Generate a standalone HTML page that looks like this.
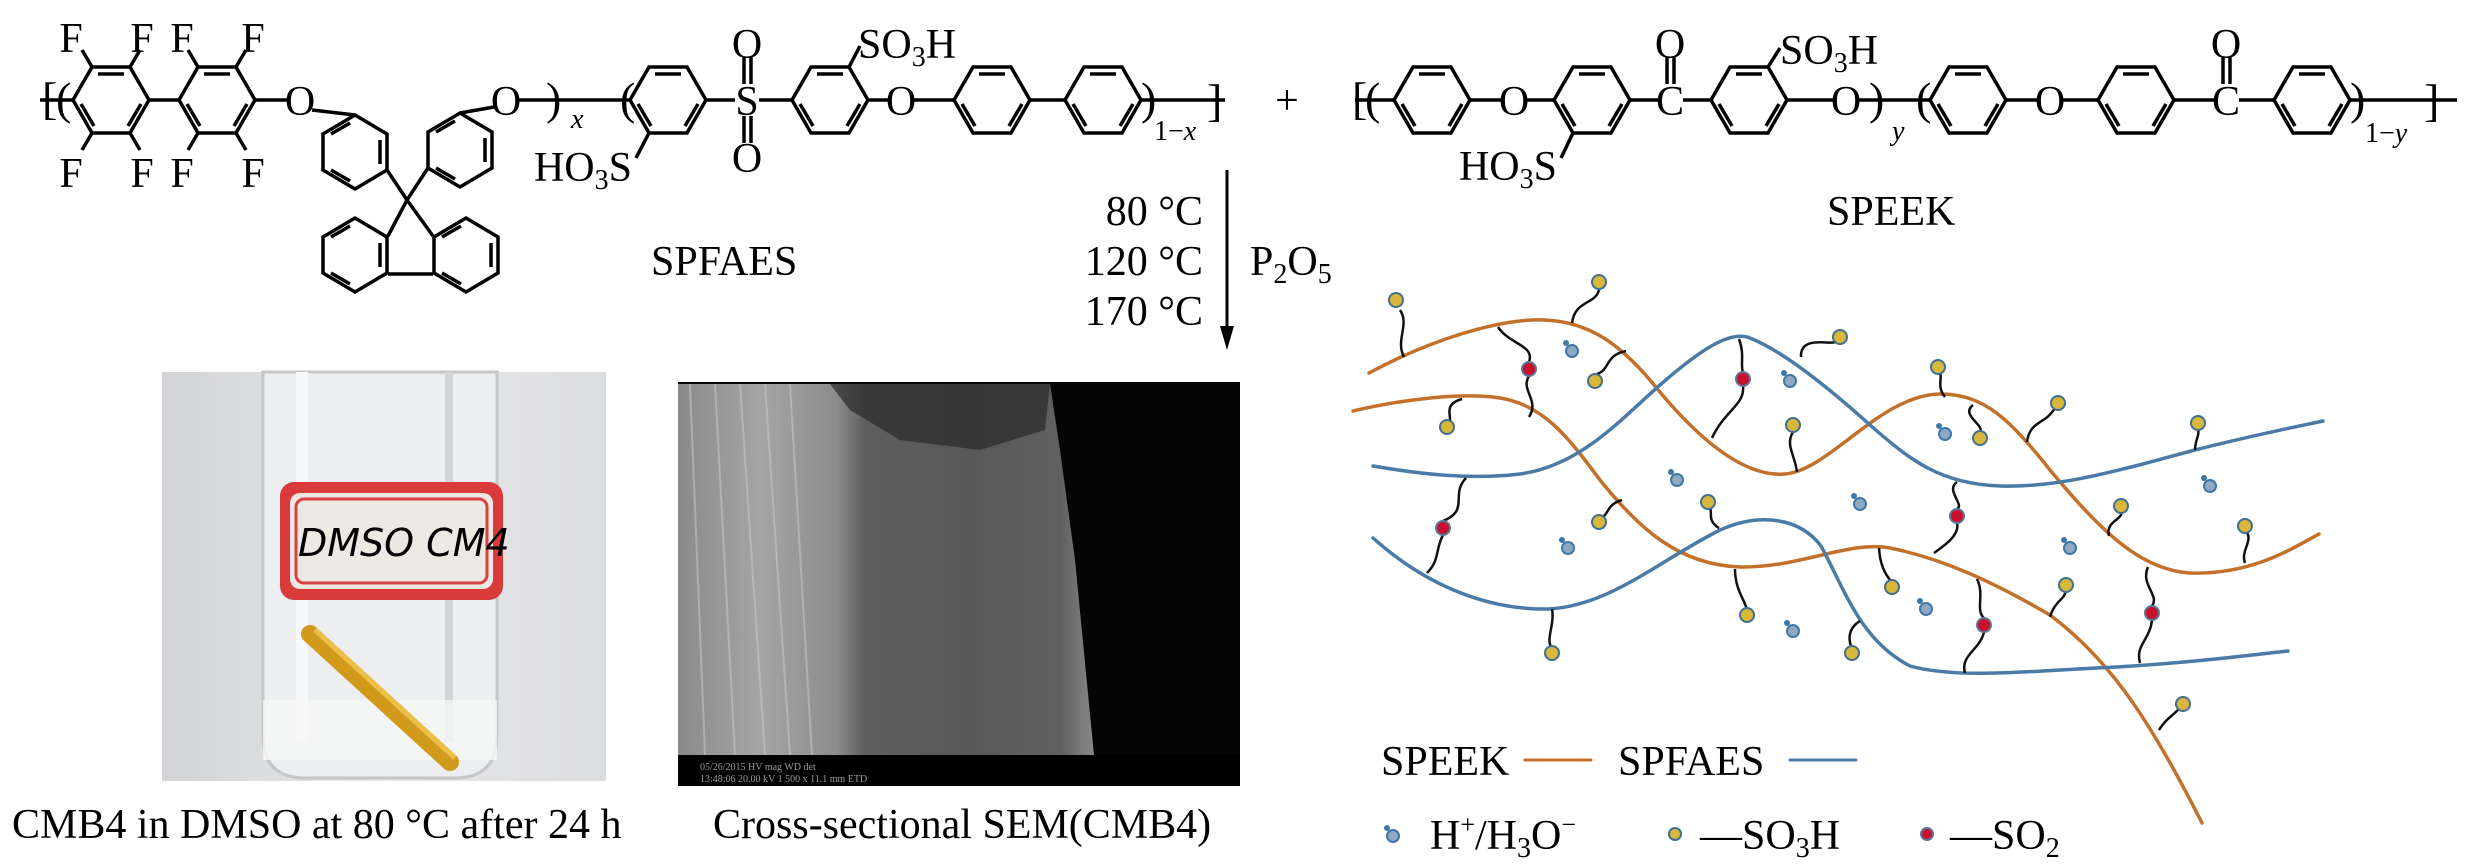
<!DOCTYPE html>
<html><head><meta charset="utf-8"><style>
html,body{margin:0;padding:0;background:#fff;}
svg{display:block;}
text{font-family:"Liberation Serif",serif;fill:#000;}
</style></head><body>
<svg width="2467" height="866" viewBox="0 0 2467 866" xmlns="http://www.w3.org/2000/svg">
<defs>
<g id="hl" fill="none" stroke="#000" stroke-width="3.5">
<polygon points="-38,0 -19,-33 19,-33 38,0 19,33 -19,33"/>
<line x1="-13" y1="-26" x2="13" y2="-26"/>
<line x1="-30" y1="4" x2="-17" y2="26"/>
<line x1="30" y1="4" x2="17" y2="26"/>
</g>
<g id="ht" fill="none" stroke="#000" stroke-width="3.5">
<polygon points="0,-37 32,-18 32,18 0,37 -32,18 -32,-18"/>
<line x1="25" y1="-12" x2="25" y2="12"/>
<line x1="-5" y1="29" x2="-24" y2="18"/>
<line x1="-5" y1="-29" x2="-24" y2="-18"/>
</g>
<linearGradient id="bg1" x1="0" x2="1" y1="0" y2="0"><stop offset="0" stop-color="#d3d4d6"/><stop offset="0.5" stop-color="#e6e7e9"/><stop offset="1" stop-color="#dcdddf"/></linearGradient>
<linearGradient id="sem" x1="0" x2="1" y1="0" y2="0"><stop offset="0" stop-color="#8a8a8a"/><stop offset="0.2" stop-color="#a5a5a5"/><stop offset="0.38" stop-color="#8c8c8c"/><stop offset="0.45" stop-color="#5e5e5e"/><stop offset="0.7" stop-color="#585858"/><stop offset="0.92" stop-color="#606060"/><stop offset="1" stop-color="#888"/></linearGradient>
</defs>

<!-- SPFAES chain -->
<g stroke="#000" stroke-width="3.5" fill="none">
<line x1="40" y1="100" x2="73" y2="100"/>
<line x1="149" y1="100" x2="179" y2="100"/>
<line x1="255" y1="100" x2="287" y2="100"/>
<line x1="92" y1="67" x2="82" y2="50"/><line x1="130" y1="67" x2="140" y2="50"/>
<line x1="92" y1="133" x2="82" y2="150"/><line x1="130" y1="133" x2="140" y2="150"/>
<line x1="198" y1="67" x2="188" y2="50"/><line x1="236" y1="67" x2="246" y2="50"/>
<line x1="198" y1="133" x2="188" y2="150"/><line x1="236" y1="133" x2="246" y2="150"/>
<line x1="312" y1="110" x2="355" y2="115"/>
<line x1="387" y1="170" x2="407" y2="200"/>
<line x1="428" y1="168" x2="407" y2="200"/>
<line x1="460" y1="113" x2="494" y2="107"/>
<line x1="407" y1="200" x2="388" y2="236"/>
<line x1="407" y1="200" x2="433" y2="236"/>
<line x1="388" y1="274" x2="433" y2="274"/>
<line x1="518" y1="100" x2="630" y2="100"/>
<line x1="706" y1="100" x2="735" y2="100"/>
<line x1="759" y1="100" x2="792" y2="100"/>
<line x1="744" y1="57" x2="744" y2="84"/><line x1="751" y1="57" x2="751" y2="84"/>
<line x1="744" y1="116" x2="744" y2="143"/><line x1="751" y1="116" x2="751" y2="143"/>
<line x1="868" y1="100" x2="889" y2="100"/>
<line x1="913" y1="100" x2="954" y2="100"/>
<line x1="1030" y1="100" x2="1065" y2="100"/>
<line x1="1141" y1="100" x2="1225" y2="100"/>
<line x1="849" y1="67" x2="860" y2="46"/>
<line x1="649" y1="133" x2="636" y2="158"/>
</g>
<use href="#hl" x="111" y="100"/><use href="#hl" x="217" y="100"/>
<use href="#ht" x="355" y="152"/><use href="#ht" x="460" y="150"/>
<use href="#ht" x="355" y="255"/><use href="#ht" x="466" y="255"/>
<use href="#hl" x="668" y="100"/><use href="#hl" x="830" y="100"/>
<use href="#hl" x="992" y="100"/><use href="#hl" x="1103" y="100"/>
<g font-size="42">
<text x="71" y="52" text-anchor="middle">F</text><text x="142" y="52" text-anchor="middle">F</text>
<text x="182" y="52" text-anchor="middle">F</text><text x="253" y="52" text-anchor="middle">F</text>
<text x="71" y="187" text-anchor="middle">F</text><text x="142" y="187" text-anchor="middle">F</text>
<text x="182" y="187" text-anchor="middle">F</text><text x="253" y="187" text-anchor="middle">F</text>
<text x="300" y="115" text-anchor="middle">O</text>
<text x="506" y="115" text-anchor="middle">O</text>
<text x="747" y="115" text-anchor="middle">S</text>
<text x="747" y="58" text-anchor="middle">O</text>
<text x="747" y="172" text-anchor="middle">O</text>
<text x="901" y="115" text-anchor="middle">O</text>
<text x="858" y="58">SO<tspan font-size="28" dy="8">3</tspan><tspan dy="-8">H</tspan></text>
<text x="632" y="181" text-anchor="end">HO<tspan font-size="28" dy="8">3</tspan><tspan dy="-8">S</tspan></text>
<text x="42" y="114" font-size="46">[</text><text x="56" y="114" font-size="46">(</text>
<text x="546" y="114" font-size="46">)</text>
<text x="571" y="128" font-size="28" font-style="italic">x</text>
<text x="620" y="114" font-size="46">(</text>
<text x="1141" y="114" font-size="46">)</text>
<text x="1154" y="140" font-size="28">1−<tspan font-style="italic">x</tspan></text>
<text x="1207" y="116" font-size="46">]</text>
<text x="651" y="275">SPFAES</text>
</g>

<!-- arrow and conditions -->
<line x1="1227" y1="170" x2="1227" y2="335" stroke="#000" stroke-width="3"/>
<polygon points="1220,326 1234,326 1227,350" fill="#000"/>
<g font-size="42">
<text x="1203" y="225" text-anchor="end">80 °C</text>
<text x="1203" y="275" text-anchor="end">120 °C</text>
<text x="1203" y="325" text-anchor="end">170 °C</text>
<text x="1250" y="275">P<tspan font-size="28" dy="8">2</tspan><tspan dy="-8">O</tspan><tspan font-size="28" dy="8">5</tspan></text>
</g>

<!-- SPEEK chain -->
<g stroke="#000" stroke-width="3.5" fill="none">
<line x1="1355" y1="100" x2="1395" y2="100"/>
<line x1="1469" y1="100" x2="1502" y2="100"/>
<line x1="1526" y1="100" x2="1555" y2="100"/>
<line x1="1629" y1="100" x2="1658" y2="100"/>
<line x1="1683" y1="100" x2="1712" y2="100"/>
<line x1="1667" y1="57" x2="1667" y2="84"/><line x1="1674" y1="57" x2="1674" y2="84"/>
<line x1="1786" y1="100" x2="1834" y2="100"/>
<line x1="1858" y1="100" x2="1931" y2="100"/>
<line x1="2005" y1="100" x2="2038" y2="100"/>
<line x1="2062" y1="100" x2="2099" y2="100"/>
<line x1="2173" y1="100" x2="2214" y2="100"/>
<line x1="2239" y1="100" x2="2275" y2="100"/>
<line x1="2223" y1="57" x2="2223" y2="84"/><line x1="2230" y1="57" x2="2230" y2="84"/>
<line x1="2349" y1="100" x2="2457" y2="100"/>
<line x1="1768" y1="67" x2="1780" y2="48"/>
<line x1="1573" y1="133" x2="1561" y2="158"/>
</g>
<use href="#hl" x="1432" y="100"/><use href="#hl" x="1592" y="100"/>
<use href="#hl" x="1749" y="100"/><use href="#hl" x="1968" y="100"/>
<use href="#hl" x="2136" y="100"/><use href="#hl" x="2312" y="100"/>
<g font-size="42">
<text x="1287" y="114" text-anchor="middle">+</text>
<text x="1352" y="114" font-size="46">[</text><text x="1365" y="114" font-size="46">(</text>
<text x="1514" y="115" text-anchor="middle">O</text>
<text x="1670" y="115" text-anchor="middle">C</text>
<text x="1670" y="58" text-anchor="middle">O</text>
<text x="1780" y="64">SO<tspan font-size="28" dy="8">3</tspan><tspan dy="-8">H</tspan></text>
<text x="1557" y="180" text-anchor="end">HO<tspan font-size="28" dy="8">3</tspan><tspan dy="-8">S</tspan></text>
<text x="1846" y="115" text-anchor="middle">O</text>
<text x="1869" y="114" font-size="46">)</text>
<text x="1892" y="140" font-size="28" font-style="italic">y</text>
<text x="1916" y="114" font-size="46">(</text>
<text x="2050" y="115" text-anchor="middle">O</text>
<text x="2226" y="115" text-anchor="middle">C</text>
<text x="2226" y="58" text-anchor="middle">O</text>
<text x="2350" y="114" font-size="46">)</text>
<text x="2365" y="142" font-size="28">1−<tspan font-style="italic">y</tspan></text>
<text x="2424" y="116" font-size="46">]</text>
<text x="1827" y="225">SPEEK</text>
</g>

<!-- photo 1 -->
<rect x="162" y="372" width="444" height="409" fill="url(#bg1)"/>
<path d="M263,372 L263,735 Q263,778 305,778 L455,778 Q497,778 497,735 L497,372 Z" fill="#eceeef" stroke="#c4c6c8" stroke-width="3"/>
<rect x="296" y="372" width="12" height="370" fill="#f7f8f9"/>
<rect x="445" y="372" width="8" height="370" fill="#d2d4d6"/>
<rect x="263" y="700" width="234" height="60" fill="#f6f6f6" opacity="0.8"/>
<rect x="280" y="482" width="223" height="118" rx="14" fill="#d93a3a"/>
<rect x="290" y="493" width="203" height="96" rx="10" fill="#ece8e2"/>
<rect x="296" y="499" width="191" height="84" rx="8" fill="none" stroke="#d94040" stroke-width="3"/>
<text x="298" y="556" font-size="38" style="font-family:'DejaVu Sans','Liberation Sans',sans-serif;font-style:italic" fill="#111">DMSO CM4</text>
<line x1="310" y1="634" x2="450" y2="762" stroke="#d29a1a" stroke-width="18" stroke-linecap="round"/>
<line x1="315" y1="630" x2="455" y2="758" stroke="#ecc048" stroke-width="5"/>

<!-- SEM -->
<rect x="678" y="382" width="562" height="404" fill="#050505"/>
<polygon points="678,384 1050,384 1060,450 1075,560 1094,755 678,755" fill="url(#sem)"/>
<g stroke="#ccc" stroke-width="2" opacity="0.5">
<line x1="690" y1="384" x2="705" y2="755"/><line x1="715" y1="384" x2="735" y2="755"/>
<line x1="740" y1="384" x2="765" y2="755"/><line x1="765" y1="384" x2="790" y2="755"/>
<line x1="790" y1="384" x2="812" y2="755"/>
</g>
<polygon points="830,384 1050,384 1045,430 980,450 900,440 850,410" fill="#2a2a2a" opacity="0.7"/>
<rect x="678" y="755" width="562" height="31" fill="#000"/>
<text x="700" y="770" font-size="10" style="fill:#999">05/26/2015  HV  mag  WD  det</text>
<text x="700" y="782" font-size="10" style="fill:#999">13:48:06  20.00 kV  1 500 x  11.1 mm  ETD</text>

<g font-size="42">
<text x="12" y="838">CMB4 in DMSO at 80 °C after 24 h</text>
<text x="713" y="838">Cross-sectional SEM(CMB4)</text>
</g>

<!-- network -->
<g fill="none" stroke-width="3.5" stroke-linejoin="round" stroke-linecap="round">
<path stroke="#c2702a" d="M1369,373 C1430,340 1500,318 1545,320 C1590,322 1620,345 1650,380 C1690,430 1740,478 1785,474 C1830,470 1880,395 1940,394 C1985,394 2010,420 2050,470 C2100,530 2140,570 2190,573 C2250,575 2290,550 2319,534"/>
<path stroke="#c2702a" d="M1353,411 C1400,400 1460,392 1500,398 C1545,405 1570,440 1600,480 C1640,530 1680,565 1740,567 C1800,568 1850,540 1890,548 C1940,558 1990,580 2050,615 C2110,660 2150,720 2202,823"/>
<path stroke="#4a7aa6" d="M1373,466 C1420,474 1470,480 1520,474 C1580,466 1620,420 1660,385 C1700,350 1730,330 1750,338 C1780,350 1820,380 1870,425 C1910,460 1940,484 2000,486 C2060,488 2120,470 2195,450 C2250,436 2290,428 2323,421"/>
<path stroke="#4a7aa6" d="M1373,538 C1420,580 1480,610 1548,609 C1610,606 1660,560 1720,530 C1760,512 1800,518 1821,546 C1845,590 1860,640 1910,666 C1960,680 2040,670 2117,667 C2200,662 2250,655 2288,651"/>
<path stroke="#c2702a" stroke-width="3" d="M1525,760 L1591,760"/>
<path stroke="#4a7aa6" stroke-width="3" d="M1790,760 L1856,760"/>
</g>
<g fill="none" stroke="#111" stroke-width="2.5">
<path d="M1404,357 C1395,340 1410,325 1400,310"/>
<path d="M1572,323 C1575,300 1595,305 1599,290"/>
<path d="M1801,357 C1800,335 1830,345 1836,342"/>
<path d="M1626,351 C1605,355 1610,370 1597,374"/>
<path d="M1462,399 C1440,405 1455,420 1448,422"/>
<path d="M1797,472 C1795,455 1785,445 1793,432"/>
<path d="M1945,397 C1935,385 1945,375 1938,372"/>
<path d="M2027,442 C2030,420 2045,425 2055,408"/>
<path d="M1973,405 C1960,415 1985,425 1980,432"/>
<path d="M2195,450 C2195,440 2200,435 2198,428"/>
<path d="M1719,528 C1705,520 1715,510 1708,506"/>
<path d="M1622,500 C1605,505 1610,515 1600,518"/>
<path d="M2109,536 C2105,520 2125,520 2121,510"/>
<path d="M2245,563 C2240,550 2255,540 2245,530"/>
<path d="M1879,548 C1880,565 1885,575 1892,582"/>
<path d="M2050,617 C2055,600 2065,600 2066,590"/>
<path d="M1735,569 C1735,590 1745,600 1747,610"/>
<path d="M1552,609 C1555,625 1545,640 1552,648"/>
<path d="M1860,621 C1845,630 1850,645 1852,648"/>
<path d="M2159,730 C2165,720 2170,718 2180,708"/>
<path d="M1498,327 C1510,345 1535,345 1529,362 M1529,376 C1520,390 1540,400 1529,417"/>
<path d="M1739,339 C1745,355 1740,365 1743,372 M1743,386 C1745,405 1725,410 1712,438"/>
<path d="M1466,478 C1450,495 1470,510 1443,521 M1443,535 C1435,550 1440,560 1427,573"/>
<path d="M1957,482 C1945,490 1965,505 1957,509 M1957,523 C1960,535 1945,545 1934,553"/>
<path d="M1977,579 C1985,595 1975,610 1984,618 M1984,632 C1980,650 1960,655 1965,673"/>
<path d="M2148,567 C2140,585 2160,595 2152,606 M2152,620 C2150,640 2135,645 2140,663"/>
</g>
<g fill="#d8b73a" stroke="#3f6f92" stroke-width="2">
<circle cx="1396" cy="300" r="7"/><circle cx="1599" cy="282" r="7"/><circle cx="1840" cy="337" r="7"/>
<circle cx="1595" cy="381" r="7"/><circle cx="1447" cy="427" r="7"/><circle cx="1793" cy="425" r="7"/>
<circle cx="1938" cy="367" r="7"/><circle cx="2058" cy="403" r="7"/><circle cx="1980" cy="438" r="7"/>
<circle cx="2198" cy="423" r="7"/><circle cx="1708" cy="502" r="7"/><circle cx="1599" cy="522" r="7"/>
<circle cx="2121" cy="506" r="7"/><circle cx="2245" cy="526" r="7"/><circle cx="1892" cy="587" r="7"/>
<circle cx="2066" cy="585" r="7"/><circle cx="1747" cy="615" r="7"/><circle cx="1552" cy="653" r="7"/>
<circle cx="1852" cy="653" r="7"/><circle cx="2183" cy="704" r="7"/>
<circle cx="1675" cy="834" r="6"/>
</g>
<g fill="#c8102e" stroke="#5a7896" stroke-width="2">
<circle cx="1529" cy="369" r="7"/><circle cx="1743" cy="379" r="7"/><circle cx="1443" cy="528" r="7"/>
<circle cx="1957" cy="516" r="7"/><circle cx="1984" cy="625" r="7"/><circle cx="2152" cy="613" r="7"/>
<circle cx="1927" cy="834" r="6"/>
</g>
<g fill="#8fa9c2" stroke="#3f78a8" stroke-width="2">
<circle cx="1572" cy="351" r="6"/><circle cx="1790" cy="381" r="6"/><circle cx="1945" cy="434" r="6"/>
<circle cx="1677" cy="480" r="6"/><circle cx="1860" cy="504" r="6"/><circle cx="2210" cy="486" r="6"/>
<circle cx="1568" cy="548" r="6"/><circle cx="2070" cy="548" r="6"/><circle cx="1926" cy="609" r="6"/>
<circle cx="1793" cy="631" r="6"/><circle cx="1393" cy="836" r="6"/>
</g>
<g fill="#3f78a8">
<circle cx="1566" cy="343" r="3"/><circle cx="1784" cy="373" r="3"/><circle cx="1939" cy="426" r="3"/>
<circle cx="1671" cy="472" r="3"/><circle cx="1854" cy="496" r="3"/><circle cx="2204" cy="478" r="3"/>
<circle cx="1562" cy="540" r="3"/><circle cx="2064" cy="540" r="3"/><circle cx="1920" cy="601" r="3"/>
<circle cx="1787" cy="623" r="3"/><circle cx="1387" cy="828" r="3"/>
</g>
<g font-size="42">
<text x="1381" y="775">SPEEK</text>
<text x="1618" y="775">SPFAES</text>
<text x="1430" y="849">H<tspan font-size="26" dy="-16">+</tspan><tspan dy="16">/H</tspan><tspan font-size="28" dy="8">3</tspan><tspan dy="-8">O</tspan><tspan font-size="26" dy="-16">−</tspan></text>
<text x="1700" y="849">—SO<tspan font-size="28" dy="8">3</tspan><tspan dy="-8">H</tspan></text>
<text x="1950" y="849">—SO<tspan font-size="28" dy="8">2</tspan></text>
</g>
</svg>
</body></html>
